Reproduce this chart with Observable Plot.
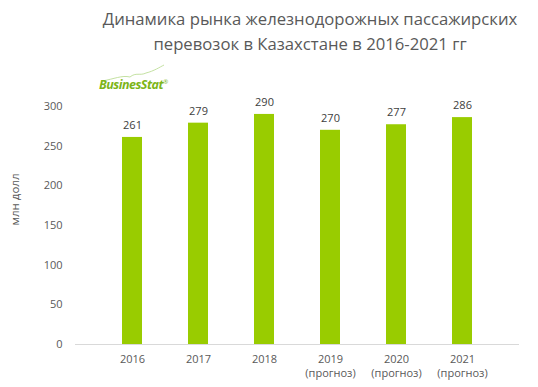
<!DOCTYPE html>
<html><head><meta charset="utf-8">
<script src="https://cdn.jsdelivr.net/npm/d3@7"></script>
<script src="https://cdn.jsdelivr.net/npm/@observablehq/plot@0.6"></script>
<style>
body{margin:0;background:#fff;font-family:"Open Sans",sans-serif;}
#wrap{position:relative;width:538px;height:387px;}
#title{position:absolute;left:90px;width:440px;top:6px;text-align:center;font-size:16.7px;line-height:25px;color:#595959;}
#logo{position:absolute;left:99px;top:76px;font-size:12.5px;font-weight:bold;font-style:italic;color:#7cb518;letter-spacing:-0.5px;}
#logo sup{font-size:6px;font-weight:normal;}
#swoosh{position:absolute;left:100px;top:64px;}
#chart{position:absolute;left:0;top:0;}
</style></head><body>
<div id="wrap">
<div id="chart"></div>
<div id="title">Динамика рынка железнодорожных пассажирских<br>перевозок в Казахстане в 2016-2021 гг</div>
<svg id="swoosh" width="66" height="20"><path d="M2,17 C14,15 22,11 30,13 C36,8 40,12 46,9 C54,7 60,3 64,1" fill="none" stroke="#b5d98a" stroke-width="0.8"/></svg>
<div id="logo">BusinesStat<sup>®</sup></div>
</div>
<script>
const years = ["2016","2017","2018","2019\n(прогноз)","2020\n(прогноз)","2021\n(прогноз)"];
const values = [261,279,290,270,277,286];
const yTicks = [0,50,100,150,200,250,300];
const data = years.map((y,i)=>({year:y,value:values[i]}));
const plot = Plot.plot({
  width:538,height:387,
  marginTop:106,marginBottom:43,marginLeft:75,marginRight:19,
  style:{fontFamily:"Open Sans, sans-serif",fontSize:"11px",color:"#595959",background:"transparent"},
  x:{domain:years,padding:0.69,label:null,tickSize:0,tickPadding:8},
  y:{domain:[0,300],ticks:yTicks,label:null,tickSize:0,tickPadding:13},
  marks:[
    Plot.barY(data,{x:"year",y:"value",fill:"#99cc00"}),
    Plot.ruleY([0],{stroke:"#d9d9d9",strokeWidth:1}),
    Plot.text(data,{x:"year",y:"value",text:d=>String(d.value),dy:-12,fill:"#404040",fontSize:11}),
    Plot.axisX({tickSize:0,tickPadding:8,lineHeight:1.3,fill:"#595959",fontSize:11}),
    Plot.axisY({ticks:yTicks,tickSize:0,tickPadding:13,fill:"#595959",fontSize:11}),
    Plot.text(["млн долл"],{frameAnchor:"left",dx:-60,rotate:-90,fill:"#595959",fontSize:11.5,y:()=>150})
  ]
});
document.getElementById("chart").appendChild(plot);
</script>
</body></html>
